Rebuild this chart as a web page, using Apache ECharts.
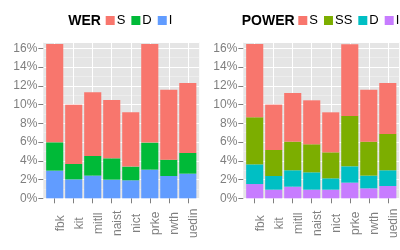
<!DOCTYPE html>
<html><head><meta charset="utf-8">
<script src="https://cdn.jsdelivr.net/npm/echarts@6/dist/echarts.min.js"></script>
<style>body{margin:0;background:#fff}#wrap{display:flex;width:400px;height:250px}.p{width:200px;height:250px}</style>
</head><body><div id="wrap"><div id="a" class="p"></div><div id="b" class="p"></div></div>
<script>
const categories = ['fbk','kit','mitll','naist','nict','prke','rwth','uedin'];
const yTicks = [0, 2, 4, 6, 8, 10, 12, 14, 16];
const yMax = 16.67;
// WER panel (percent), stacked bottom to top: I, D, S
const werI = [2.95, 2.02, 2.42, 1.99, 1.92, 3.06, 2.38, 2.63];
const werD = [3.02, 1.64, 2.09, 2.27, 1.46, 2.88, 1.74, 2.20];
const werS = [10.49, 6.33, 6.79, 6.23, 5.79, 10.52, 7.47, 7.47];
// POWER panel (percent), stacked bottom to top: I, D, SS, S
const powI = [1.52, 0.92, 1.24, 0.92, 0.92, 1.67, 1.06, 1.31];
const powD = [2.10, 1.46, 1.75, 1.85, 1.21, 1.74, 1.36, 1.68];
const powSS = [5.02, 2.77, 3.05, 2.99, 2.77, 5.37, 3.62, 3.87];
const powS = [7.82, 4.84, 5.19, 4.69, 4.27, 7.64, 5.55, 5.44];

const FONT = 'Liberation Sans, Arial, sans-serif';
const GREY = '#7f7f7f';

function makePanel(el, title, titleLeft, legendLeft, stackNames, stackValues, stackColors, legendOrder) {
  const chart = echarts.init(el, null, {renderer: 'canvas'});
  const series = stackNames.map((n, i) => ({
    name: n, type: 'bar', stack: 'all', xAxisIndex: 1, yAxisIndex: 1,
    data: stackValues[i], barCategoryGap: '10%',
    itemStyle: {color: stackColors[i]}, emphasis: {disabled: true}
  }));
  chart.setOption({
    animation: false,
    title: {text: title, left: titleLeft, top: 14, padding: 0,
      textStyle: {fontFamily: FONT, fontSize: 14, fontWeight: 'bold', color: '#000'}},
    legend: {left: legendLeft, top: 14, padding: 0, itemWidth: 9, itemHeight: 9, itemGap: 6,
      icon: 'rect', data: legendOrder, selectedMode: false,
      textStyle: {fontFamily: FONT, fontSize: 13, color: '#000', padding: [0, 0, 0, -3]}},
    grid: [
      {left: 43.3, top: 42, width: 155.9, height: 156.3, show: true, backgroundColor: '#E5E5E5', borderWidth: 0},
      {left: 45.2, top: 42, width: 152.1, height: 156.3}
    ],
    xAxis: [
      {gridIndex: 0, type: 'value', show: false, min: 0, max: 1},
      {gridIndex: 1, type: 'category', data: categories, boundaryGap: true,
        axisLine: {show: false},
        axisTick: {show: true, alignWithLabel: true, length: 5, lineStyle: {color: GREY}},
        axisLabel: {interval: 0, rotate: 90, align: 'center', verticalAlign: 'top', margin: 25,
          color: GREY, fontSize: 12, fontFamily: FONT},
        splitLine: {show: false}},
      {gridIndex: 1, type: 'value', min: 0, max: 16, interval: 1,
        axisLine: {show: false}, axisTick: {show: false}, axisLabel: {show: false},
        splitLine: {show: true, lineStyle: {color: ['rgba(0,0,0,0)', '#ffffff'], width: 1}}}
    ],
    yAxis: [
      {gridIndex: 0, type: 'value', min: 0, max: yMax, interval: 2,
        axisLine: {show: false},
        axisTick: {show: true, length: 5, lineStyle: {color: GREY}},
        axisLabel: {formatter: v => yTicks.includes(v) ? v + '%' : '', showMaxLabel: false,
          margin: 6, color: GREY, fontSize: 12, fontFamily: FONT},
        splitLine: {show: true, lineStyle: {color: '#ffffff', width: 1}},
        minorTick: {show: false, splitNumber: 2},
        minorSplitLine: {show: true, lineStyle: {color: '#F2F2F2', width: 0.6}}},
      {gridIndex: 1, type: 'value', min: 0, max: yMax, show: false}
    ],
    series: series
  });
}

makePanel(document.getElementById('a'), 'WER', 68.3, 105.7,
  ['I', 'D', 'S'], [werI, werD, werS], ['#619CFF', '#00BA38', '#F8766D'], ['S', 'D', 'I']);
makePanel(document.getElementById('b'), 'POWER', 41.7, 98.3,
  ['I', 'D', 'SS', 'S'], [powI, powD, powSS, powS], ['#C77CFF', '#00BFC4', '#7CAE00', '#F8766D'], ['S', 'SS', 'D', 'I']);
</script></body></html>
